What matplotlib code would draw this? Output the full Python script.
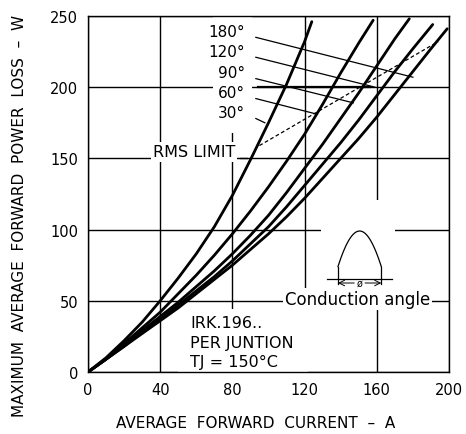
import matplotlib.pyplot as plt
from matplotlib.patches import Rectangle
import numpy as np

plt.rcParams['font.family'] = ['DejaVu Sans']

# power loss curves, one per conduction angle
i_30 = [0, 10, 20, 30, 40, 50, 60, 70, 80, 90, 100, 110, 120, 124]
p_30 = [0, 10, 22, 35, 50, 66, 83, 102, 124, 149, 175, 202, 232, 246]
i_60 = [0, 10, 20, 30, 40, 50, 60, 70, 80, 90, 100, 110, 120, 130, 140, 150, 158]
p_60 = [0, 9, 20, 31, 42, 55, 68, 82, 97, 113, 130, 148, 167, 188, 210, 231, 247]
i_90 = [0, 10, 20, 30, 40, 50, 60, 70, 80, 90, 100, 110, 120, 130, 140, 150, 160, 170, 178]
p_90 = [0, 9, 19, 29, 39, 49, 60, 71, 83, 96, 110, 126, 143, 160, 178, 196, 215, 234, 248]
i_120 = [0, 10, 20, 30, 40, 50, 60, 70, 80, 90, 100, 110, 120, 130, 140, 150, 160, 170, 180, 191]
p_120 = [0, 9, 18, 28, 37, 47, 57, 67, 78, 90, 102, 116, 131, 146, 161, 177, 194, 211, 227, 244]
i_180 = [0, 10, 20, 30, 40, 50, 60, 70, 80, 90, 100, 110, 120, 130, 140, 150, 160, 170, 180, 190, 199]
p_180 = [0, 9, 18, 27, 36, 45, 55, 65, 75, 86, 97, 109, 122, 136, 150, 164, 179, 195, 211, 227, 241]

# RMS limit line end points
rms_i = [95, 194]
rms_p = [159, 232]

angle_labels = ['180°', '120°', '90°', '60°', '30°']
label_y = [239, 225, 210, 196, 182]
# where each label's leader line meets its curve
leader_i = [180, 159, 147, 127, 98]
leader_p = [207, 200, 189, 181, 175]

x_ticks = [0, 40, 80, 120, 160, 200]
y_ticks = [0, 50, 100, 150, 200, 250]

fig = plt.figure(figsize=(4.66, 4.35), dpi=100)
ax = fig.add_axes([0.1888, 0.1425, 0.7747, 0.8185])
ax.set_xlim(0, 200)
ax.set_ylim(0, 250)
ax.set_xticks(x_ticks)
ax.set_yticks(y_ticks)
ax.tick_params(length=0, labelsize=10.5, pad=7)
ax.grid(True, color='black', lw=1.0)
ax.set_axisbelow(True)
for s in ax.spines.values():
    s.set_linewidth(1.0)

ax.set_xlabel('AVERAGE  FORWARD  CURRENT  –  A', fontsize=11)
ax.xaxis.set_label_coords(0.463, -0.12)
ax.set_ylabel('MAXIMUM  AVERAGE  FORWARD  POWER  LOSS  –  W', fontsize=11)
ax.yaxis.set_label_coords(-0.17, 0.44)

# white areas that break the grid behind the annotations
for x0, y0, w, h in [(69, 168, 22, 82), (129, 57, 41, 64), (50, 0, 72, 44)]:
    ax.add_patch(Rectangle((x0, y0), w, h, facecolor='white', edgecolor='none', zorder=1.5))

for ii, pp in [(i_30, p_30), (i_60, p_60), (i_90, p_90), (i_120, p_120), (i_180, p_180)]:
    ax.plot(ii, pp, color='black', lw=2.0, zorder=3, solid_capstyle='round')

ax.plot(rms_i, rms_p, color='black', lw=0.9, ls=(0, (3, 2)), zorder=3)
ax.plot([94, 156], [200, 200], color='black', lw=1.6, zorder=2)

for lab, ly, li, lp in zip(angle_labels, label_y, leader_i, leader_p):
    ax.text(87, ly, lab, ha='right', va='center', fontsize=11, zorder=4)
    ax.plot([93, li], [ly - 4, lp], color='black', lw=0.9, zorder=3)

ax.text(36, 154.5, 'RMS LIMIT', ha='left', va='center', fontsize=11.5,
        bbox=dict(facecolor='white', edgecolor='none', pad=1.5), zorder=4)
ax.plot([84, 88], [150, 150], color='black', lw=1.0, zorder=3)

ax.text(56.5, 21, 'IRK.196..\nPER JUNTION\nTJ = 150°C', ha='left', va='center',
        fontsize=11.5, linespacing=1.35, zorder=4)

ax.text(109, 51.5, 'Conduction angle', ha='left', va='center', fontsize=12,
        bbox=dict(facecolor='white', edgecolor='none', pad=1.5), zorder=4)

# half-sine conduction waveform sketch
cx, base, top, half = 150.5, 64, 99, 12
t = np.linspace(0.25 * np.pi, 0.75 * np.pi, 60)
xs = cx - half + (t - 0.25 * np.pi) / (0.5 * np.pi) * 2 * half
ys = base + 10 + (top - base - 10) * (np.sin(t) - np.sin(0.25 * np.pi)) / (1 - np.sin(0.25 * np.pi))
ax.plot(xs, ys, color='black', lw=0.9, zorder=3)
ax.plot([cx - half, cx - half], [base - 2, base + 10], color='black', lw=0.9, zorder=3)
ax.plot([cx + half, cx + half], [base - 2, base + 10], color='black', lw=0.9, zorder=3)
ax.plot([cx - 18, cx + 18], [base + 1, base + 1], color='black', lw=0.9, zorder=3)
ax.annotate('', xy=(cx - half, base - 1.5), xytext=(cx - 3, base - 1.5),
            arrowprops=dict(arrowstyle='->', lw=0.7, color='black', shrinkA=0, shrinkB=0), zorder=3)
ax.annotate('', xy=(cx + half, base - 1.5), xytext=(cx + 3, base - 1.5),
            arrowprops=dict(arrowstyle='->', lw=0.7, color='black', shrinkA=0, shrinkB=0), zorder=3)
ax.text(cx, base - 1.5, 'ø', ha='center', va='center', fontsize=7, zorder=4)

fig.savefig('out.png', dpi=100)
